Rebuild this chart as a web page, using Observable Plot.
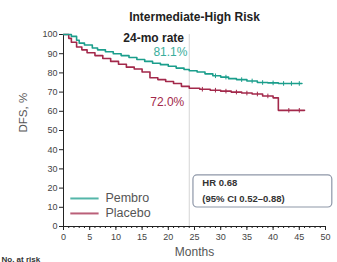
<!DOCTYPE html>
<html>
<head>
<meta charset="utf-8">
<script src="https://cdn.jsdelivr.net/npm/d3@7"></script>
<script src="https://cdn.jsdelivr.net/npm/@observablehq/plot@0.6"></script>
<style>
  html, body { margin: 0; padding: 0; background: #fff; }
</style>
</head>
<body>
<div id="chart"></div>
<script>
const title = "Intermediate-High Risk";
const pembroColor = "#1b9e8c";
const placeboColor = "#a3294b";

const pembroMonths = [0, 1.5, 2.5, 3, 4, 5.5, 6.5, 8, 9.5, 11, 12.5, 14, 15.5, 17, 18.5, 20, 21.5, 23, 24, 25.5, 27, 28.5, 30, 31.5, 33, 35, 37, 39, 41, 45.5];
const pembroDFS    = [100, 99, 97, 95.5, 94.5, 93, 92, 91, 90, 89, 88, 87, 86, 85, 84.3, 83.5, 82.5, 81.8, 81.1, 80.5, 79.5, 78.5, 77.8, 77, 76.5, 75.8, 75, 74.8, 74.5, 74.5];

const placeboMonths = [0, 1, 1.5, 2.5, 3.5, 4.5, 6, 7.5, 9, 10.5, 12, 13.5, 15, 16.5, 18, 19.5, 21, 22.5, 24, 26, 28, 30, 32, 34, 36, 38, 40, 41, 46];
const placeboDFS    = [100, 98, 96, 93.5, 92, 90.5, 89, 87.5, 86, 84.5, 83, 82, 80.5, 77.5, 76.5, 75.5, 74.5, 73, 72, 71.5, 71, 70.5, 70, 69.5, 69, 68, 67, 60.5, 60.5];

const pembroCensor = [29, 31, 34, 36, 38, 40, 42, 43.5, 45];
const placeboCensor = [26.5, 29, 31, 33, 35, 37, 39, 43, 45];

const yTicks = d3.range(0, 101, 10);
const xTicks = d3.range(0, 51, 5);
const xMinor = d3.range(0, 51, 1);

const legendLabels = ["Pembro", "Placebo"];
const legendColors = [pembroColor, placeboColor];
const legendY = [14.6, 6.8];

const rateHeader = "24-mo rate";
const pembroRate = "81.1%";
const placeboRate = "72.0%";
const hrLines = ["HR 0.68", "(95% CI 0.52–0.88)"];

const pembro = pembroMonths.map((m, i) => ({m, v: pembroDFS[i]}));
const placebo = placeboMonths.map((m, i) => ({m, v: placeboDFS[i]}));
function valueAt(series, t) {
  let v = series[0].v;
  for (const d of series) { if (d.m <= t) v = d.v; }
  return v;
}
const censors = [
  ...pembroCensor.map(t => ({m: t, v: valueAt(pembro, t), c: pembroColor})),
  ...placeboCensor.map(t => ({m: t, v: valueAt(placebo, t), c: placeboColor}))
];
const legend = legendLabels.map((l, i) => ({l, c: legendColors[i], y: legendY[i]}));

const chart = Plot.plot({
  width: 337,
  height: 262,
  marginLeft: 63,
  marginRight: 12,
  marginTop: 34,
  marginBottom: 36,
  style: {fontFamily: "Liberation Sans, Arial, sans-serif", background: "#fff"},
  x: {domain: [0, 50]},
  y: {domain: [0, 100]},
  marks: [
    Plot.ruleX([24], {stroke: "#d5d5d5", strokeWidth: 1}),
    Plot.axisY(yTicks, {tickSize: 4, tickPadding: 2, fontSize: 9, fill: "#444", stroke: "#222", label: null}),
    Plot.axisX(xMinor, {tickSize: 2, stroke: "#222", tickFormat: () => "", label: null}),
    Plot.axisX(xTicks, {tickSize: 4, tickPadding: 3, fontSize: 9, fill: "#444", stroke: "#222", label: null}),
    Plot.ruleX([0], {stroke: "#222", strokeWidth: 1}),
    Plot.ruleY([0], {stroke: "#222", strokeWidth: 1}),
    Plot.text(["DFS, %"], {frameAnchor: "left", rotate: -90, dx: -40, dy: 2, fontSize: 11.5, fill: "#555"}),
    Plot.text(["Months"], {frameAnchor: "bottom", dy: 29, fontSize: 12, fill: "#555"}),
    Plot.text([title], {frameAnchor: "top", dy: -22, fontSize: 12, fontWeight: "bold", fill: "#222"}),
    Plot.text(["No. at risk"], {frameAnchor: "bottom-left", dx: -62, dy: 35, lineAnchor: "bottom", fontSize: 8, fontWeight: "bold", textAnchor: "start", fill: "#333"}),
    Plot.line(placebo, {x: "m", y: "v", curve: "step-after", stroke: placeboColor, strokeWidth: 1.6}),
    Plot.line(pembro, {x: "m", y: "v", curve: "step-after", stroke: pembroColor, strokeWidth: 1.6}),
    Plot.link(censors, {x1: "m", x2: "m", y1: d => d.v - 1.2, y2: d => d.v + 1.2, stroke: "c", strokeWidth: 1}),
    Plot.text([rateHeader], {x: 17.2, y: 98, fontSize: 12, fontWeight: "bold", fill: "#222"}),
    Plot.text([pembroRate], {x: 20.4, y: 90.6, fontSize: 12, fill: "#3aae9c"}),
    Plot.text([placeboRate], {x: 19.8, y: 64.6, fontSize: 12, fill: placeboColor}),
    Plot.link(legend, {x1: 1.3, x2: 6.7, y1: "y", y2: "y", stroke: "c", strokeWidth: 2, strokeOpacity: 0.75}),
    Plot.text(legend, {x: 8, y: "y", text: "l", textAnchor: "start", fontSize: 12.5, fill: "#555"}),
    Plot.rect([0], {x1: 24.8, x2: 51.3, y1: 9.9, y2: 26.6, rx: 4, fill: "none", stroke: "#8e97a8", strokeWidth: 1.2}),
    Plot.text(hrLines, {x: 26.5, y: (d, i) => 22.5 - i * 8.3, text: d => d, textAnchor: "start", fontSize: 9.5, fontWeight: "bold", fill: "#333"})
  ]
});
document.getElementById("chart").appendChild(chart);
</script>
</body>
</html>
